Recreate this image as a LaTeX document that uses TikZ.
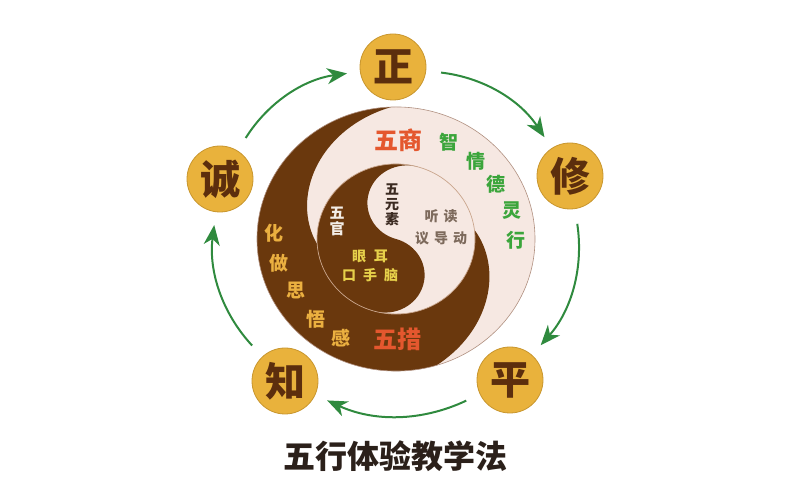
\documentclass[tikz,border=0pt]{standalone}
\usepackage{fontspec}
\setmainfont{Noto Sans CJK SC}
\usetikzlibrary{arrows.meta}
\definecolor{brownc}{HTML}{6A380D}
\definecolor{palec}{HTML}{F6E8E2}
\definecolor{rimc}{HTML}{B09080}
\definecolor{ringc}{HTML}{C9A58C}
\definecolor{goldc}{HTML}{E9B23C}
\definecolor{goldedge}{HTML}{C8962E}
\definecolor{sealtext}{HTML}{5C2E0D}
\definecolor{arrowc}{HTML}{2F8A3E}
\definecolor{greenc}{HTML}{3BA53B}
\definecolor{redc}{HTML}{E4572E}
\definecolor{ambc}{HTML}{EBB040}
\definecolor{yelc}{HTML}{E6D04A}
\definecolor{creamc}{HTML}{F3EDE6}
\definecolor{darkc}{HTML}{3C2B22}
\definecolor{greyc}{HTML}{7D6A5C}
\definecolor{titlec}{HTML}{2B201A}
\begin{document}
\begin{tikzpicture}[x=1pt,y=1pt,
  seal/.style={circle,fill=goldc,draw=goldedge,line width=0.8pt,minimum size=66pt,inner sep=0pt,
    text=sealtext,font=\fontsize{40}{40}\selectfont\bfseries},
  cyclearrow/.style={draw=arrowc,line width=2pt,-{Stealth[length=20pt,width=16pt,inset=6pt]},
    bend left=25,shorten <=15pt,shorten >=13pt},
  big/.style={text=redc,font=\fontsize{24}{24}\selectfont\bfseries},
  outer/.style={font=\fontsize{19}{19}\selectfont\bfseries},
  inner/.style={font=\fontsize{14}{15}\selectfont\bfseries,align=center}]
\useasboundingbox (0,0) rectangle (800,503);
% taiji
\begin{scope}[shift={(396,264)},yscale=0.95]
\fill[palec] (0,0) circle (139);
\fill[brownc] (92:139) arc[start angle=92,end angle=287,radius=139]
  -- plot[domain=0:80,samples=40] ({287+\x}:{139-0.75*\x})
  arc[start angle=367,end angle=184,radius=79]
  -- plot[domain=0:92,samples=40] ({184-\x}:{79+0.652*\x}) -- cycle;
\fill[brownc] (74:79) arc[start angle=74,end angle=254,radius=79]
  arc[start angle=254,end angle=434,radius=39.5]
  arc[start angle=254,end angle=74,radius=39.5] -- cycle;
\draw[rimc,line width=0.6pt] (0,0) circle (139);
\draw[ringc,line width=0.7pt] (0,0) circle (79);
\end{scope}

% labels
\node[big] (wushang) at (398,363) {五商};
\node[big] (wucuo) at (397,164) {五措};
\node[outer,text=greenc] (zhihui) at (449,361) {智};
\node[outer,text=greenc] (qing) at (476,342) {情};
\node[outer,text=greenc] (de) at (496,319) {德};
\node[outer,text=greenc] (ling) at (512,292) {灵};
\node[outer,text=greenc] (xing) at (516,263) {行};
\node[outer,text=ambc] (hua) at (274,270) {化};
\node[outer,text=ambc] (zuo) at (279,240) {做};
\node[outer,text=ambc] (si) at (296,212) {思};
\node[outer,text=ambc] (wu) at (316,184) {悟};
\node[outer,text=ambc] (gan) at (341,165) {感};
\node[inner,text=darkc] (yuansu) at (392,298) {五\\元\\素};
\node[inner,text=creamc,font=\fontsize{15}{16}\selectfont\bfseries] (guan) at (337,282) {五\\官};
\node[inner,text=greyc] (tingdu) at (441,287) {听\kern5pt 读};
\node[inner,text=greyc] (yidao) at (441,265) {议\kern5pt 导\kern5pt 动};
\node[inner,text=yelc] (yaner) at (370,247) {眼\kern8pt 耳};
\node[inner,text=yelc] (koushou) at (370,228) {口\kern7pt 手\kern7pt 脑};
\node[text=titlec,font=\fontsize{32}{32}\selectfont\bfseries] (heading) at (395,47) {五行体验教学法};

% seals
\node[seal] (zheng) at (393,436) {正};
\node[seal] (xiu) at (570,327) {修};
\node[seal] (ping) at (510,123) {平};
\node[seal] (zhi) at (285,122) {知};
\node[seal] (cheng) at (220,324) {诚};

\draw[cyclearrow] (cheng) to (zheng);
\draw[cyclearrow] (zheng) to (xiu);
\draw[cyclearrow] (xiu) to (ping);
\draw[cyclearrow] (ping) to (zhi);
\draw[cyclearrow] (zhi) to (cheng);
\end{tikzpicture}
\end{document}
